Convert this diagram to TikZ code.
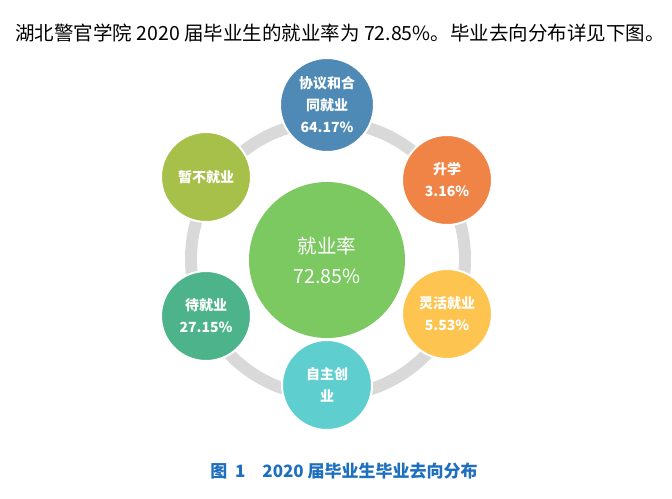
\documentclass[tikz,border=0pt]{standalone}
\usepackage{fontspec}
\setmainfont{Noto Sans CJK SC}
\definecolor{ring_gray}{RGB}{217, 217, 217}
\definecolor{rate_green}{RGB}{124, 201, 97}
\definecolor{sat_blue}{RGB}{78, 138, 181}
\definecolor{sat_orange}{RGB}{240, 132, 71}
\definecolor{sat_yellow}{RGB}{253, 196, 79}
\definecolor{sat_teal}{RGB}{94, 206, 206}
\definecolor{sat_green}{RGB}{77, 179, 138}
\definecolor{sat_olive}{RGB}{166, 192, 74}
\definecolor{cap_blue}{RGB}{31, 111, 191}
\begin{document}
\begin{tikzpicture}[x=1pt, y=-1pt,
    sat/.style={circle, draw=white, line width=2pt, minimum size=90pt,
      text=white, font=\bfseries\fontsize{14}{22}\selectfont, align=center, inner sep=0pt}]
  \useasboundingbox (0,0) rectangle (672,498);
  % Titre
  \node (title) at (340,33) {\fontsize{19.5}{22}\selectfont 湖北警官学院 2020 届毕业生的就业率为 72.85\%。毕业去向分布详见下图。};
  % Anneau
  \draw[ring_gray, line width=12pt] (328,259) circle (137);
  % Cercle central
  \node[circle, fill=rate_green, minimum size=156pt, text=white, align=center,
    font=\fontsize{19.5}{30}\selectfont] (rate) at (327,260) {就业率\\72.85\%};
  % Satellites
  \node[sat, fill=sat_blue, minimum size=94pt] (contract) at (327,105) {协议和合\\同就业\\64.17\%};
  \node[sat, fill=sat_orange] (study) at (447,180) {升学\\3.16\%};
  \node[sat, fill=sat_yellow] (flex) at (447,314) {灵活就业\\5.53\%};
  \node[sat, fill=sat_teal] (self) at (327,385) {自主创\\业};
  \node[sat, fill=sat_green] (wait) at (206,316) {待就业\\27.15\%};
  \node[sat, fill=sat_olive] (notyet) at (206,177) {暂不就业};
  % Légende
  \node[text=cap_blue, font=\bfseries\fontsize{17}{20}\selectfont] (caption) at (344,471) {图\ \ 1\quad 2020 届毕业生毕业去向分布};
\end{tikzpicture}
\end{document}
